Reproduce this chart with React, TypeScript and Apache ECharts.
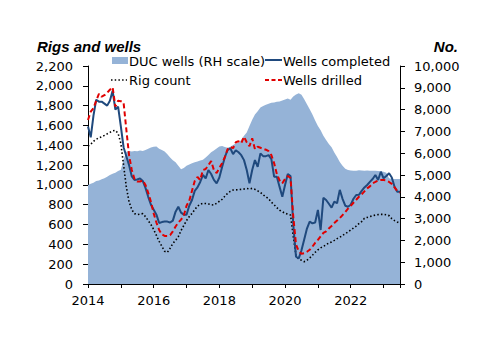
import React, { useEffect, useRef } from "react";
import * as echarts from "echarts";

const completed = [1590,1480,1700,1860,1840,1840,1820,1800,1850,1950,1760,1790,
1590,1380,1290,1200,1085,1050,1055,1066,1040,970,880,800,
750,700,615,625,630,630,620,640,730,780,720,700,
700,790,848,940,975,1030,1100,1066,1150,1110,1050,1016,
1075,1180,1280,1350,1370,1310,1350,1330,1300,1250,1150,1016,
1150,1251,1183,1318,1290,1290,1300,1260,1083,1083,980,881,
1000,1110,1090,600,276,259,340,450,560,629,612,620,
747,545,870,848,810,770,831,815,950,860,790,780,
800,860,898,900,940,975,999,1030,1060,1100,1049,1133,
1066,1090,1117,1075,982,931,931];

const drilled = [1655,1740,1775,1850,1920,1890,1905,1930,1960,1985,1790,1850,
1845,1830,1560,1300,1150,1060,1035,1035,1045,1000,920,830,
713,620,545,500,485,485,494,530,580,620,650,690,
790,840,940,1040,1080,1050,1150,1160,1200,1240,1150,1120,
1170,1220,1280,1360,1385,1370,1430,1440,1420,1486,1430,1390,
1470,1360,1385,1375,1365,1355,1340,1300,1220,1110,1045,1016,
1060,1090,1070,680,400,330,305,310,325,345,377,415,
445,480,515,530,560,585,615,640,665,695,725,760,
790,820,850,880,905,935,965,985,1016,1030,1045,1049,
1049,1045,1030,1010,975,940,921];

const rigCount = [1392,1410,1440,1460,1475,1486,1500,1515,1530,1545,1550,1520,
1420,1200,980,830,750,710,700,705,710,680,640,600,
550,490,430,380,330,320,360,410,440,478,540,590,
640,680,713,750,785,805,814,812,808,800,797,815,
835,855,885,915,935,948,950,952,955,958,965,960,
965,955,940,925,900,880,860,825,800,770,745,730,
713,705,696,480,290,250,240,225,240,262,290,320,
345,365,380,395,415,425,440,458,471,490,508,525,
545,565,585,610,630,663,672,680,688,696,700,703,
703,698,690,660,640,625,612];

const ducWells = [4540,4600,4650,4720,4750,4800,4850,4920,5000,5060,5100,5180,
5240,5700,6070,6100,6080,6100,6090,6120,6100,6150,6200,6260,
6300,6310,6200,6150,6080,5950,5800,5680,5580,5420,5260,5320,
5420,5480,5540,5580,5620,5660,5700,5800,5920,6040,6120,6220,
6310,6330,6280,6250,6300,6380,6440,6480,6620,6800,6950,7250,
7530,7780,7930,8100,8160,8220,8270,8310,8330,8360,8370,8420,
8460,8510,8450,8600,8690,8750,8680,8480,8250,8020,7770,7500,
7250,7050,6800,6600,6420,6270,6030,5820,5600,5420,5290,5230,
5210,5200,5200,5220,5210,5200,5210,5200,5190,5200,5180,5170,
5150,5100,4850,4830,4820,4820,4820];

const startYear = 2014;
const endYear = 2023.5;
const xTickYears = [2014, 2016, 2018, 2020, 2022];

const FONT = '"DejaVu Sans", sans-serif';
const C_AREA = "#95B3D7";
const C_BLUE = "#1F497D";
const C_RED = "#E00000";

const toPairs = (arr: number[]) => arr.map((v, i) => [startYear + i / 12, v]);
const fmt = (v: number) => v.toLocaleString("en-US");

export default function App() {
  const ref = useRef<HTMLDivElement>(null);
  useEffect(() => {
    if (!ref.current) return;
    const chart = echarts.init(ref.current, null, { renderer: "svg" });
    const txt = (text: string, x: number, y: number) => ({
      type: "text",
      x,
      y,
      style: { text, font: `13px ${FONT}`, fill: "#000", verticalAlign: "middle" },
    });
    chart.setOption({
      animation: false,
      backgroundColor: "#fff",
      grid: { left: 88, right: 100, top: 66, bottom: 69, containLabel: false },
      xAxis: {
        type: "value",
        min: startYear,
        max: endYear,
        interval: 1,
        splitLine: { show: false },
        axisLine: { show: true, onZero: false, lineStyle: { color: "#000", width: 1 } },
        axisTick: { show: true, inside: false, length: 4, lineStyle: { color: "#000" } },
        axisLabel: {
          color: "#000",
          fontFamily: FONT,
          fontSize: 13,
          margin: 10,
          formatter: (v: number) => (xTickYears.includes(v) ? String(v) : ""),
        },
      },
      yAxis: [
        {
          type: "value",
          min: 0,
          max: 2200,
          interval: 200,
          position: "left",
          splitLine: { show: false },
          axisLine: { show: true, lineStyle: { color: "#000", width: 1 } },
          axisTick: { show: true, inside: false, length: 5, lineStyle: { color: "#000" } },
          axisLabel: { color: "#000", fontFamily: FONT, fontSize: 13, margin: 15, formatter: fmt },
        },
        {
          type: "value",
          min: 0,
          max: 10000,
          interval: 1000,
          position: "right",
          splitLine: { show: false },
          axisLine: { show: true, lineStyle: { color: "#000", width: 1 } },
          axisTick: { show: true, inside: false, length: 5, lineStyle: { color: "#000" } },
          axisLabel: { color: "#000", fontFamily: FONT, fontSize: 13, margin: 14, formatter: fmt },
        },
      ],
      series: [
        {
          name: "DUC wells (RH scale)",
          type: "line",
          yAxisIndex: 1,
          data: toPairs(ducWells),
          symbol: "none",
          lineStyle: { width: 0, color: C_AREA },
          areaStyle: { color: C_AREA, opacity: 1 },
          z: 1,
        },
        {
          name: "Rig count",
          type: "line",
          data: toPairs(rigCount),
          symbol: "none",
          lineStyle: { width: 1.6, color: "#000", type: [1.5, 2.2] },
          z: 2,
        },
        {
          name: "Wells completed",
          type: "line",
          data: toPairs(completed),
          symbol: "none",
          lineStyle: { width: 2, color: C_BLUE },
          z: 3,
        },
        {
          name: "Wells drilled",
          type: "line",
          data: toPairs(drilled),
          symbol: "none",
          lineStyle: { width: 2, color: C_RED, type: [5, 3] },
          z: 4,
        },
      ],
      graphic: [
        {
          type: "text",
          x: 37,
          y: 46,
          style: {
            text: "Rigs and wells",
            font: 'italic bold 15px "Liberation Sans", sans-serif',
            fill: "#000",
            verticalAlign: "middle",
          },
        },
        {
          type: "text",
          x: 458,
          y: 46,
          style: {
            text: "No.",
            font: 'italic bold 15px "Liberation Sans", sans-serif',
            fill: "#000",
            align: "right",
            verticalAlign: "middle",
          },
        },
        { type: "rect", shape: { x: 112, y: 57, width: 16, height: 7 }, style: { fill: C_AREA } },
        txt("DUC wells (RH scale)", 129, 61),
        {
          type: "line",
          shape: { x1: 265, y1: 60, x2: 282, y2: 60 },
          style: { stroke: C_BLUE, lineWidth: 2 },
        },
        txt("Wells completed", 283, 61),
        {
          type: "line",
          shape: { x1: 111, y1: 80, x2: 127, y2: 80 },
          style: { stroke: "#000", lineWidth: 1.6, lineDash: [1.5, 2.2] },
        },
        txt("Rig count", 129, 80),
        {
          type: "line",
          shape: { x1: 265, y1: 80, x2: 282, y2: 80 },
          style: { stroke: C_RED, lineWidth: 2, lineDash: [4, 2.5] },
        },
        txt("Wells drilled", 283, 80),
      ],
    });
    return () => chart.dispose();
  }, []);
  return (
    <div
      ref={ref}
      style={{ position: "absolute", left: 0, top: 0, width: 500, height: 353, background: "#fff" }}
    />
  );
}
